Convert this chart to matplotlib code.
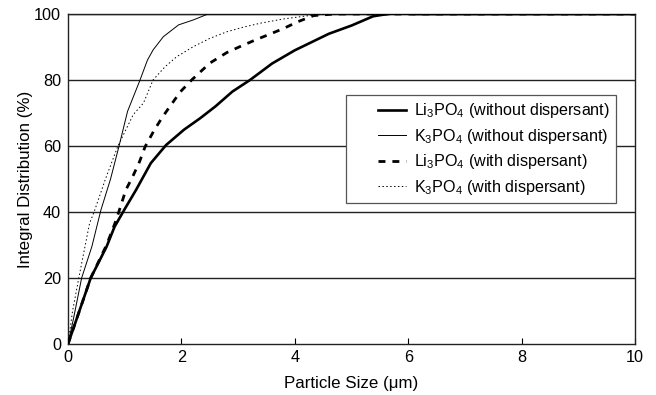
import matplotlib
matplotlib.use('Agg')
import matplotlib.pyplot as plt
from matplotlib.legend_handler import HandlerLine2D

# Particle size (um) vs integral distribution (%)
li_wo_x = [0, 0.4, 0.68, 0.82, 0.99, 1.2, 1.46, 1.73, 1.9, 2.05, 2.33, 2.6, 2.9, 3.21, 3.6, 4.0, 4.6, 5.0, 5.38, 5.6, 5.8, 6.1, 10]
li_wo_y = [0, 20, 29.5, 35.5, 40.6, 46.7, 54.8, 60.3, 62.8, 65, 68.4, 72, 76.5, 80, 85, 89, 94, 96.5, 99.3, 99.9, 100.3, 100, 100]

k_wo_x = [0, 0.1, 0.24, 0.42, 0.58, 0.75, 0.9, 1.05, 1.27, 1.4, 1.5, 1.68, 1.95, 2.21, 2.47, 10]
k_wo_y = [0, 8, 20, 29.5, 40.6, 50, 60, 70.5, 80, 86, 89.1, 93.1, 96.7, 98.2, 100, 100]

li_w_x = [0, 0.4, 0.68, 0.85, 1.02, 1.14, 1.26, 1.36, 1.52, 1.67, 1.98, 2.18, 2.5, 2.8, 3.03, 3.3, 3.56, 3.8, 4.06, 4.33, 4.7, 10]
li_w_y = [0, 20, 30, 37.6, 46.7, 50.7, 55.2, 59.8, 64.8, 68.9, 76.4, 80, 85.1, 88.3, 90.1, 92.1, 93.9, 95.6, 97.7, 99.5, 100, 100]

k_w_x = [0, 0.08, 0.19, 0.38, 0.46, 0.66, 0.88, 1.15, 1.33, 1.5, 1.71, 1.92, 2.21, 2.5, 2.8, 3.09, 3.39, 3.8, 4.2, 4.6, 10]
k_w_y = [0, 10, 20, 36.6, 40, 50, 60, 69.5, 73, 80, 84, 87.1, 90.1, 92.6, 94.6, 96, 97.2, 98.5, 99.4, 100, 100]

labels = [r'Li$_3$PO$_4$ (without dispersant)',
          r'K$_3$PO$_4$ (without dispersant)',
          r'Li$_3$PO$_4$ (with dispersant)',
          r'K$_3$PO$_4$ (with dispersant)']

plt.rcParams['font.family'] = ['Liberation Sans', 'DejaVu Sans']
plt.rcParams['mathtext.default'] = 'regular'
plt.rcParams['font.size'] = 11.7


# legend sample drawn only in the right half of the handle box
class RightHandle(HandlerLine2D):
    def get_xdata(self, legend, xdescent, ydescent, width, height, fontsize):
        x0 = -xdescent + width * 0.48
        x1 = -xdescent + width
        return [x0, x1], [x0, x1]


fig = plt.figure(figsize=(6.56, 3.95), dpi=100)
ax = fig.add_axes([0.1037, 0.1291, 0.8643, 0.8355])

# horizontal grid lines
for g in [20, 40, 60, 80, 100]:
    ax.axhline(g, color='#222222', lw=1.0, zorder=1)

l1, = ax.plot(li_wo_x, li_wo_y, color='black', lw=1.9, label=labels[0], zorder=3)
l2, = ax.plot(k_wo_x, k_wo_y, color='black', lw=0.7, label=labels[1], zorder=3)
l3, = ax.plot(li_w_x, li_w_y, color='black', lw=2.0, dashes=(2.5, 2.5), label=labels[2], zorder=3)
l4, = ax.plot(k_w_x, k_w_y, color='black', lw=0.7, linestyle=(0, (1.5, 2.5)), label=labels[3], zorder=3)

ax.set_xlim(0, 10)
ax.set_ylim(0, 100)
ax.set_xticks([0, 2, 4, 6, 8, 10])
ax.set_yticks([0, 20, 40, 60, 80, 100])
ax.tick_params(axis='x', direction='in', length=4, width=0.8, pad=4)
ax.tick_params(axis='y', length=0, pad=5)
for s in ax.spines.values():
    s.set_linewidth(1.0)
    s.set_color('#222222')

ax.set_xlabel('Particle Size (μm)', fontsize=12.2, labelpad=8)
ax.set_ylabel('Integral Distribution (%)', fontsize=12.2, labelpad=1)

hmap = {h: RightHandle() for h in (l1, l2, l3, l4)}
leg = ax.legend(loc='upper left', bbox_to_anchor=(0.49, 0.7545), fontsize=11.6,
                fancybox=False, framealpha=1, edgecolor='#555555',
                handlelength=3.35, handletextpad=0.45, borderpad=0.4,
                labelspacing=0.4, borderaxespad=0, handler_map=hmap)
leg.get_frame().set_linewidth(0.9)
leg.set_zorder(5)

fig.savefig('out.png', dpi=100)
